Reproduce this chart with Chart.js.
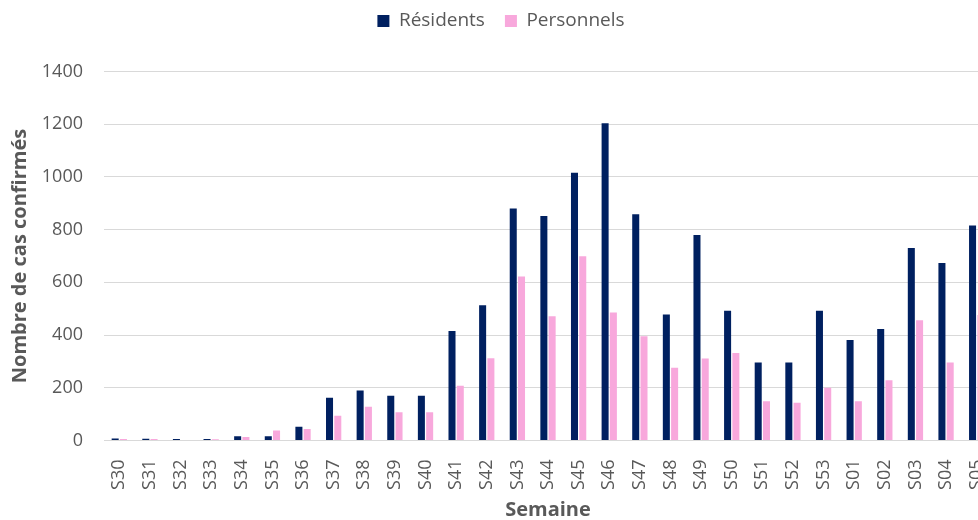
<!DOCTYPE html>
<html lang="fr">
<head>
<meta charset="utf-8">
<title>Cas confirmés par semaine</title>
<script src="https://cdn.jsdelivr.net/npm/chart.js@4.4.1/dist/chart.umd.min.js"></script>
<style>
  html, body { margin: 0; padding: 0; background: #ffffff; overflow: hidden; width: 978px; height: 520px; }
  #clip { width: 978px; height: 520px; overflow: hidden; position: relative; }
  #chart { display: block; position: absolute; left: 0; top: 0; width: 992px; height: 520px; }
</style>
</head>
<body>
<div id="clip"><canvas id="chart" width="992" height="520"></canvas></div>
<script>
// Semaines (S30 à S05)
const semaines = ['S30','S31','S32','S33','S34','S35','S36','S37','S38','S39','S40','S41','S42','S43','S44','S45','S46','S47','S48','S49','S50','S51','S52','S53','S01','S02','S03','S04','S05'];

// Cas confirmés chez les résidents
const residents = [8, 7, 6, 6, 16, 16, 52, 162, 190, 170, 170, 415, 513, 880, 852, 1016, 1204, 858, 478, 780, 492, 296, 296, 492, 381, 423, 730, 673, 816];

// Cas confirmés chez les personnels
const personnels = [6, 6, 0, 5, 13, 38, 44, 94, 128, 107, 107, 208, 312, 622, 471, 699, 486, 396, 276, 311, 332, 149, 143, 200, 149, 229, 456, 296, 476];

// Graduations de l'axe vertical
const yMin = 0;
const yMax = 1400;
const yStep = 200;

const textColor = '#595959';
const gridColor = '#D9D9D9';
const fontFamily = '"Open Sans", "Liberation Sans", sans-serif';

// Espace réservé sous la légende et léger décalage horizontal de celle-ci
const legendSpacing = {
  id: 'legendSpacing',
  beforeInit(chart) {
    const originalFit = chart.legend.fit;
    chart.legend.fit = function fit() {
      originalFit.bind(chart.legend)();
      this.height = 80;
    };
  },
  afterLayout(chart) {
    chart.legend.left += 5;
    chart.legend.right += 5;
  }
};

new Chart(document.getElementById('chart'), {
  type: 'bar',
  data: {
    labels: semaines,
    datasets: [
      {
        label: 'Résidents',
        data: residents,
        backgroundColor: '#002060',
        borderWidth: 0,
        categoryPercentage: 0.54,
        barPercentage: 0.85
      },
      {
        label: 'Personnels',
        data: personnels,
        backgroundColor: '#F8A8DC',
        borderWidth: 0,
        categoryPercentage: 0.54,
        barPercentage: 0.85
      }
    ]
  },
  options: {
    responsive: false,
    animation: false,
    devicePixelRatio: 1,
    layout: { padding: { top: -8.5, left: 0, right: 0, bottom: 0 } },
    plugins: {
      legend: {
        position: 'top',
        labels: {
          boxWidth: 12,
          boxHeight: 12,
          padding: 20,
          color: textColor,
          font: { family: fontFamily, size: 19 }
        }
      },
      tooltip: { enabled: false }
    },
    scales: {
      x: {
        grid: { display: false, drawTicks: false },
        border: { display: true, color: gridColor, width: 1 },
        ticks: {
          color: textColor,
          font: { family: fontFamily, size: 18 },
          minRotation: 90,
          maxRotation: 90,
          padding: 19,
          autoSkip: false
        },
        title: {
          display: true,
          text: 'Semaine',
          color: textColor,
          font: { family: fontFamily, size: 20, weight: 'bold', lineHeight: 1.0 },
          padding: { top: -1, bottom: 0 }
        },
        afterFit(scale) {
          scale.height = 79.5;
          scale.paddingLeft = 0;
          scale.paddingRight = 0;
        }
      },
      y: {
        min: yMin,
        max: yMax,
        ticks: {
          stepSize: yStep,
          color: textColor,
          font: { family: fontFamily, size: 18 },
          padding: 21,
          callback: (value) => String(value)
        },
        grid: { color: gridColor, lineWidth: 1, drawTicks: false },
        border: { display: false },
        title: {
          display: true,
          text: 'Nombre de cas confirmés',
          color: textColor,
          font: { family: fontFamily, size: 20, weight: 'bold', lineHeight: 1.2 },
          padding: { top: 8, bottom: 0 }
        },
        afterFit(scale) { scale.width = 104; }
      }
    }
  },
  plugins: [legendSpacing]
});
</script>
</body>
</html>
